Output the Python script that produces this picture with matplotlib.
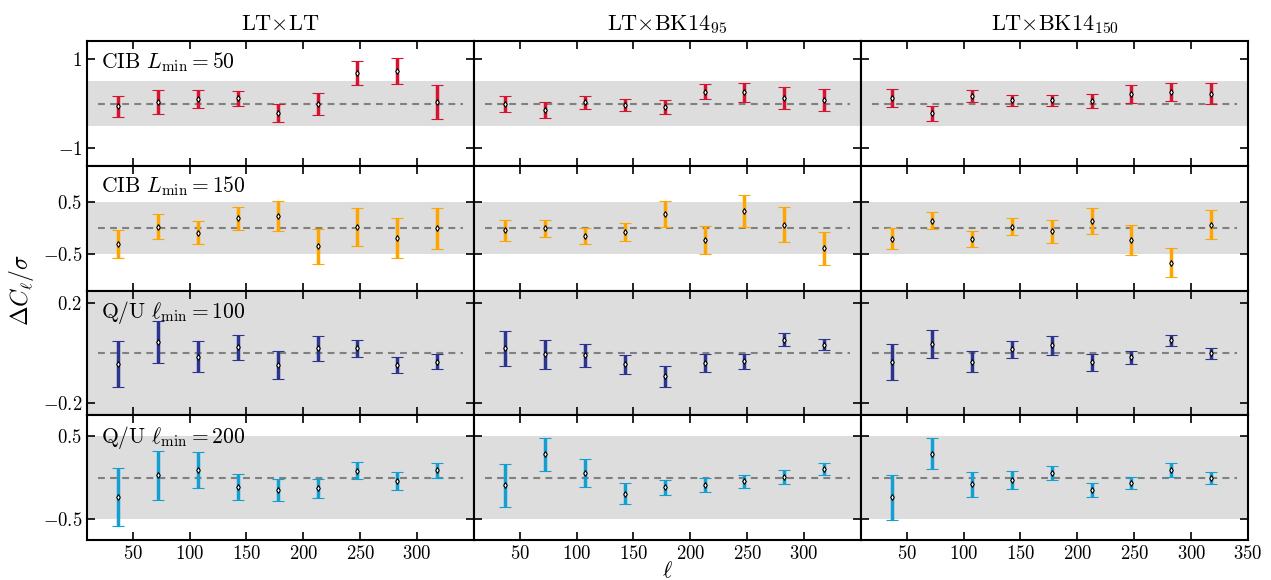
import numpy as np
import matplotlib
matplotlib.use("Agg")
import matplotlib.pyplot as plt

plt.rcParams['font.family'] = 'serif'
plt.rcParams['font.serif'] = ['cmr10']
plt.rcParams['mathtext.fontset'] = 'cm'
plt.rcParams['axes.formatter.use_mathtext'] = True

ell = [37.5, 72.5, 107.5, 142.5, 177.5, 212.5, 247.5, 282.5, 317.5]

col_titles = [r'LT$\times$LT', r'LT$\times$BK14$_{95}$', r'LT$\times$BK14$_{150}$']
row_labels = [r'CIB $L_{\rm min}=50$', r'CIB $L_{\rm min}=150$',
              r'Q/U $\ell_{\rm min}=100$', r'Q/U $\ell_{\rm min}=200$']
row_colors = ['#d7142f', '#ffa500', '#2b3590', '#129fd2']
row_ylim = [1.4, 1.2, 0.25, 0.75]
row_yticks = [[-1, 1], [-0.5, 0.5], [-0.2, 0.2], [-0.5, 0.5]]

# values [row][col], errors [row][col]
cib50_val = [[-0.06, 0.04, 0.11, 0.115, -0.21, -0.01, 0.69, 0.73, 0.04],
             [0.0, -0.155, 0.025, -0.035, -0.08, 0.265, 0.25, 0.115, 0.08],
             [0.13, -0.22, 0.17, 0.07, 0.07, 0.05, 0.22, 0.26, 0.22]]
cib50_err = [[0.24, 0.27, 0.20, 0.17, 0.195, 0.245, 0.265, 0.30, 0.38],
             [0.18, 0.18, 0.145, 0.13, 0.15, 0.165, 0.205, 0.245, 0.24],
             [0.20, 0.17, 0.14, 0.115, 0.13, 0.155, 0.20, 0.21, 0.235]]

cib150_val = [[-0.30, 0.03, -0.085, 0.19, 0.235, -0.35, 0.025, -0.19, -0.005],
              [-0.04, 0.0, -0.145, -0.075, 0.27, -0.235, 0.335, 0.07, -0.39],
              [-0.20, 0.145, -0.205, 0.03, -0.06, 0.135, -0.23, -0.66, 0.07]]
cib150_err = [[0.27, 0.245, 0.215, 0.22, 0.28, 0.34, 0.37, 0.385, 0.39],
              [0.205, 0.165, 0.155, 0.18, 0.245, 0.27, 0.31, 0.33, 0.32],
              [0.205, 0.165, 0.15, 0.16, 0.215, 0.255, 0.29, 0.28, 0.285]]

qu100_val = [[-0.043, 0.044, -0.015, 0.022, -0.047, 0.018, 0.018, -0.049, -0.035],
             [0.018, -0.006, -0.01, -0.046, -0.094, -0.04, -0.034, 0.053, 0.033],
             [-0.035, 0.034, -0.035, 0.014, 0.03, -0.038, -0.018, 0.05, -0.002]]
qu100_err = [[0.092, 0.084, 0.062, 0.049, 0.056, 0.049, 0.035, 0.032, 0.029],
             [0.07, 0.058, 0.045, 0.039, 0.043, 0.036, 0.029, 0.027, 0.022],
             [0.072, 0.056, 0.041, 0.035, 0.037, 0.034, 0.027, 0.023, 0.023]]

qu200_val = [[-0.235, 0.026, 0.094, -0.114, -0.15, -0.13, 0.082, -0.042, 0.09],
             [-0.094, 0.28, 0.054, -0.195, -0.118, -0.09, -0.046, 0.006, 0.106],
             [-0.235, 0.287, -0.078, -0.026, 0.05, -0.147, -0.066, 0.09, -0.006]]
qu200_err = [[0.35, 0.295, 0.22, 0.157, 0.13, 0.11, 0.10, 0.104, 0.09],
             [0.257, 0.195, 0.17, 0.128, 0.092, 0.084, 0.082, 0.088, 0.074],
             [0.27, 0.187, 0.15, 0.108, 0.084, 0.082, 0.076, 0.082, 0.068]]

all_val = [cib50_val, cib150_val, qu100_val, qu200_val]
all_err = [cib50_err, cib150_err, qu100_err, qu200_err]

fig, axes = plt.subplots(4, 3, figsize=(12.71, 5.80), dpi=100)
fig.subplots_adjust(left=0.0685, right=0.982, top=0.929, bottom=0.069,
                    wspace=0, hspace=0)

for r in range(4):
    for c in range(3):
        ax = axes[r, c]
        ax.axhspan(-0.5, 0.5, color='#dddddd', lw=0, zorder=0)
        ax.plot([20, 340], [0, 0], color='#808080', lw=1.5,
                ls=(0, (3.3, 2.5)), zorder=1)
        ax.errorbar(ell, all_val[r][c], yerr=all_err[r][c], fmt='d',
                    color=row_colors[r], ecolor=row_colors[r], elinewidth=2.5,
                    capsize=4, capthick=2.5, mfc='white', mec='black',
                    ms=3, mew=0.8, zorder=3)
        ax.set_xlim(10, 350)
        ax.set_ylim(-row_ylim[r], row_ylim[r])
        ax.set_yticks(row_yticks[r])
        if c < 2:
            ax.set_xticks([50, 100, 150, 200, 250, 300])
        else:
            ax.set_xticks([50, 100, 150, 200, 250, 300, 350])
        ax.tick_params(direction='in', top=True, right=True, length=6,
                       width=1.2, labelsize=13.5)
        if c > 0:
            ax.tick_params(labelleft=False)
        if r < 3:
            ax.tick_params(labelbottom=False)
        for sp in ax.spines.values():
            sp.set_linewidth(1.5)
        if r == 0:
            ax.set_title(col_titles[c], fontsize=16, pad=8)
        if c == 0:
            ax.text(0.035, 0.93, row_labels[r], transform=ax.transAxes,
                    fontsize=15.5, va='top', ha='left')

axes[3, 1].set_xlabel(r'$\ell$', fontsize=16, labelpad=-2)
fig.text(0.017, 0.5, r'$\Delta C_\ell/\sigma$', rotation=90, fontsize=17,
         va='center', ha='center')

fig.savefig('out.png', dpi=100)
